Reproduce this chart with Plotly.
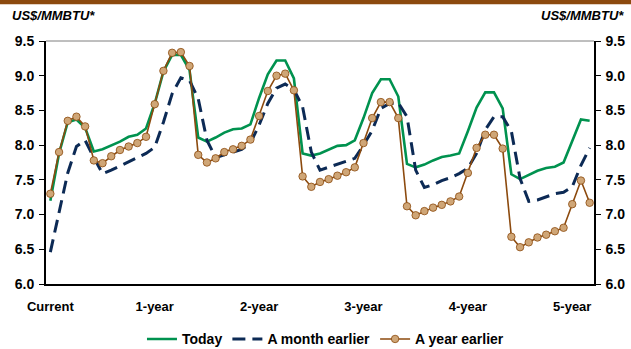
import plotly.graph_objects as go

# Forward curve points, one per month from the current contract out to 62 months
months = list(range(63))
tick_positions = [0, 12, 24, 36, 48, 60]
tick_labels = ["Current", "1-year", "2-year", "3-year", "4-year", "5-year"]

today = [7.20, 7.88, 8.33, 8.37, 8.25, 7.91, 7.94, 7.99, 8.05, 8.12, 8.15, 8.24,
         8.60, 9.06, 9.30, 9.30, 9.08, 8.11, 8.05, 8.11, 8.18, 8.23, 8.24, 8.30,
         8.68, 9.02, 9.22, 9.22, 8.96, 7.88, 7.85, 7.88, 7.94, 7.99, 8.00, 8.07,
         8.39, 8.75, 8.95, 8.95, 8.70, 7.73, 7.68, 7.72, 7.78, 7.83, 7.85, 7.88,
         8.20, 8.54, 8.76, 8.76, 8.53, 7.58, 7.51, 7.57, 7.63, 7.67, 7.69, 7.75,
         8.06, 8.37, 8.35]

month_earlier = [6.46, 7.05, 7.60, 7.98, 8.07, 7.82, 7.59, 7.64, 7.70, 7.76, 7.83, 7.88,
                 7.97, 8.33, 8.74, 8.97, 8.93, 8.67, 8.07, 7.82, 7.86, 7.90, 7.94, 8.03,
                 8.29, 8.60, 8.82, 8.88, 8.80, 8.55, 7.90, 7.64, 7.68, 7.73, 7.77, 7.81,
                 8.00, 8.21, 8.53, 8.60, 8.61, 8.41, 7.64, 7.39, 7.43, 7.49, 7.53, 7.59,
                 7.67, 7.88, 8.22, 8.41, 8.41, 8.20, 7.52, 7.19, 7.21, 7.26, 7.30, 7.32,
                 7.40, 7.71, 7.96]

year_earlier = [7.30, 7.90, 8.35, 8.41, 8.27, 7.78, 7.74, 7.84, 7.93, 7.98, 8.03, 8.12,
                8.59, 9.07, 9.33, 9.34, 9.14, 7.86, 7.75, 7.81, 7.90, 7.94, 7.99, 8.08,
                8.42, 8.78, 9.00, 9.03, 8.79, 7.55, 7.40, 7.47, 7.51, 7.56, 7.61, 7.68,
                8.03, 8.39, 8.62, 8.62, 8.39, 7.12, 6.99, 7.05, 7.10, 7.14, 7.19, 7.26,
                7.60, 7.96, 8.15, 8.15, 7.95, 6.68, 6.53, 6.60, 6.67, 6.71, 6.76, 6.81,
                7.15, 7.49, 7.17]

FONT = "Liberation Sans, Arial, sans-serif"
GREEN = "#00924F"
NAVY = "#0C2A55"
BROWN = "#8C4A0E"
TAN = "#CFA677"

fig = go.Figure()

fig.add_trace(go.Scatter(
    x=months, y=today, name="Today", mode="lines",
    line=dict(color=GREEN, width=2.6)))

fig.add_trace(go.Scatter(
    x=months, y=month_earlier, name="A month earlier", mode="lines",
    line=dict(color=NAVY, width=3, dash="13px,7px")))

fig.add_trace(go.Scatter(
    x=months, y=year_earlier, name="A year earlier", mode="lines+markers",
    line=dict(color=BROWN, width=1.6),
    marker=dict(symbol="circle", size=7.5, color=TAN,
                line=dict(color=BROWN, width=0.8))))

# right-hand axis carries the same scale as the left
fig.add_trace(go.Scatter(
    x=months, y=today, yaxis="y2", mode="lines",
    line=dict(width=0, color="rgba(0,0,0,0)"),
    showlegend=False, hoverinfo="skip"))

yaxis_common = dict(
    range=[6, 9.5], dtick=0.5, tick0=6, tickformat=".1f",
    showgrid=False, zeroline=False,
    showline=True, linecolor="black",
    ticks="outside", ticklen=5, tickwidth=1, tickcolor="black",
    ticklabelstandoff=2,
    tickfont=dict(family=FONT, size=14, color="black", weight="bold"),
)

fig.update_layout(
    width=631, height=349,
    margin=dict(l=46, r=37, t=41, b=65, autoexpand=False),
    paper_bgcolor="white", plot_bgcolor="white",
    showlegend=True,
    xaxis=dict(
        range=[-0.5, 62.5], tickvals=tick_positions, ticktext=tick_labels,
        showgrid=False, zeroline=False,
        showline=True, linecolor="black", linewidth=2,
        ticks="", ticklabelstandoff=9,
        tickfont=dict(family=FONT, size=13, color="black", weight="bold"),
    ),
    yaxis=dict(**yaxis_common, side="left", linewidth=2),
    yaxis2=dict(**yaxis_common, side="right", overlaying="y", linewidth=1.5),
    legend=dict(
        orientation="h", x=0.51, xanchor="center", y=-0.162, yanchor="top",
        font=dict(family=FONT, size=14, color="black", weight="bold"),
        itemwidth=30, tracegroupgap=0, bgcolor="rgba(0,0,0,0)",
    ),
    shapes=[
        # brown band across the top of the page
        dict(type="rect", xref="paper", yref="paper",
             x0=-0.1, x1=1.1, y0=1.151, y1=1.2,
             fillcolor=BROWN, line=dict(width=0), layer="below"),
        # light frame line along the top of the plot area
        dict(type="line", xref="paper", yref="paper",
             x0=0, x1=1, y0=1, y1=1, line=dict(color="#7F7F7F", width=1)),
    ],
    annotations=[
        dict(text="<b><i>US$/MMBTU*</i></b>", xref="paper", yref="paper",
             x=-0.065, y=1.105, xanchor="left", yanchor="middle", showarrow=False,
             font=dict(family=FONT, size=13, color="black")),
        dict(text="<b><i>US$/MMBTU*</i></b>", xref="paper", yref="paper",
             x=1.0585, y=1.105, xanchor="right", yanchor="middle", showarrow=False,
             font=dict(family=FONT, size=13, color="black")),
    ],
)

fig.write_html("out.html")
